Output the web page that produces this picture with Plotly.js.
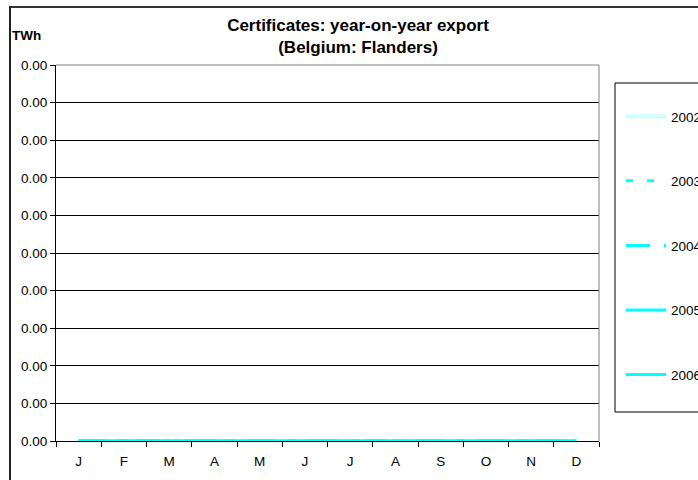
<!DOCTYPE html>
<html>
<head>
<meta charset="utf-8">
<script src="https://cdn.plot.ly/plotly-3.0.1.min.js"></script>
<style>
html,body{margin:0;padding:0;overflow:hidden;background:#fff;width:698px;height:480px;}
#frame{position:absolute;left:9px;top:6px;width:800px;height:600px;border-left:2px solid #222;border-top:2px solid #333;pointer-events:none;z-index:5;}
#chart{position:absolute;left:0;top:0;}
</style>
</head>
<body>
<div id="chart"></div>
<div id="frame"></div>
<script>
const months = ["J","F","M","A","M ","J ","J  ","A ","S","O","N","D"];
const monthLabels = ["J","F","M","A","M","J","J","A","S","O","N","D"];
const years = ["2002","2003","2004","2005","2006"];
const v2002 = [0,0,0,0,0,0,0,0,0,0,0,0];
const v2003 = [0,0,0,0,0,0,0,0,0,0,0,0];
const v2004 = [0,0,0,0,0,0,0,0,0,0,0,0];
const v2005 = [0,0,0,0,0,0,0,0,0,0,0,0];
const v2006 = [0,0,0,0,0,0,0,0,0,0,0,0];
const yTickVals = [0,1,2,3,4,5,6,7,8,9,10];
const yTickText = ["0.00","0.00","0.00","0.00","0.00","0.00","0.00","0.00","0.00","0.00","0.00"];

const series = [v2002, v2003, v2004, v2005, v2006];
const styles = [
  {color:"#ccffff", width:4, dash:"solid"},
  {color:"#00ffff", width:3, dash:"7px,14px"},
  {color:"#00ffff", width:3, dash:"24px,14px,5px,14px"},
  {color:"#00ffff", width:3, dash:"solid"},
  {color:"#00ffff", width:3, dash:"solid"}
];
const font = "Liberation Sans, Arial, sans-serif";
const traces = series.map((vals, i) => ({
  x: months, y: vals, type: "scatter", mode: "lines", name: years[i],
  legendgroup: years[i], line: styles[i], cliponaxis: false
}));

const W = 760, H = 480;
const px = v => (v - 56) / 543;      // pixel x -> paper
const py = v => (441 - v) / 376;     // pixel y -> paper
const layout = {
  width: W, height: H,
  margin: {l:56, r:W-599, t:65, b:39},
  paper_bgcolor: "#fff", plot_bgcolor: "#fff",
  font: {family: font, size: 13.5, color: "#000"},
  title: {text: "<b>Certificates: year-on-year export<br>(Belgium: Flanders)</b>",
          font: {family: font, size: 17, color: "#000"},
          xref: "container", x: 358/W, xanchor: "center",
          yref: "container", y: 1 - 31/H, yanchor: "middle"},
  xaxis: {type: "category", range: [-0.5, 11.5], tickmode: "array",
          tickvals: months, ticktext: monthLabels, tickson: "boundaries",
          ticks: "outside", ticklen: 5, tickcolor: "#000", tickwidth: 1,
          ticklabelstandoff: 8,
          showline: true, linecolor: "#000", linewidth: 1, showgrid: false,
          tickfont: {family: font, size: 13.5, color: "#000"}, fixedrange: true},
  yaxis: {range: [0, 10], tickmode: "array", tickvals: yTickVals, ticktext: yTickText,
          ticks: "outside", ticklen: 5, tickcolor: "#000", showline: true,
          linecolor: "#000", linewidth: 1, showgrid: true, gridcolor: "#000",
          gridwidth: 1, zeroline: false,
          tickfont: {family: font, size: 13.5, color: "#000"}, fixedrange: true},
  showlegend: true,
  legend: {x: px(621), xanchor: "left", y: py(101), yanchor: "top",
           borderwidth: 0, bgcolor: "rgba(0,0,0,0)",
           font: {family: font, size: 13.5, color: "#000"},
           traceorder: "grouped", tracegroupgap: 44, itemwidth: 40},
  annotations: [{text: "<b>TWh</b>", xref: "paper", yref: "paper",
                 x: px(10), y: py(35), xanchor: "left", yanchor: "middle",
                 showarrow: false, font: {family: font, size: 13.5, color: "#000"}}],
  shapes: [
    {type: "line", xref: "paper", yref: "paper", x0: 0, x1: 1, y0: 1, y1: 1,
     line: {color: "#808080", width: 1}},
    {type: "line", xref: "paper", yref: "paper", x0: 1, x1: 1, y0: 0, y1: 1,
     line: {color: "#808080", width: 1}},
    {type: "rect", xref: "paper", yref: "paper", x0: px(615), x1: px(760), y0: py(412), y1: py(83),
     line: {color: "#000", width: 1}, fillcolor: "rgba(0,0,0,0)", layer: "below"}
  ]
};
Plotly.newPlot("chart", traces, layout, {displayModeBar: false, staticPlot: true});
</script>
</body>
</html>
